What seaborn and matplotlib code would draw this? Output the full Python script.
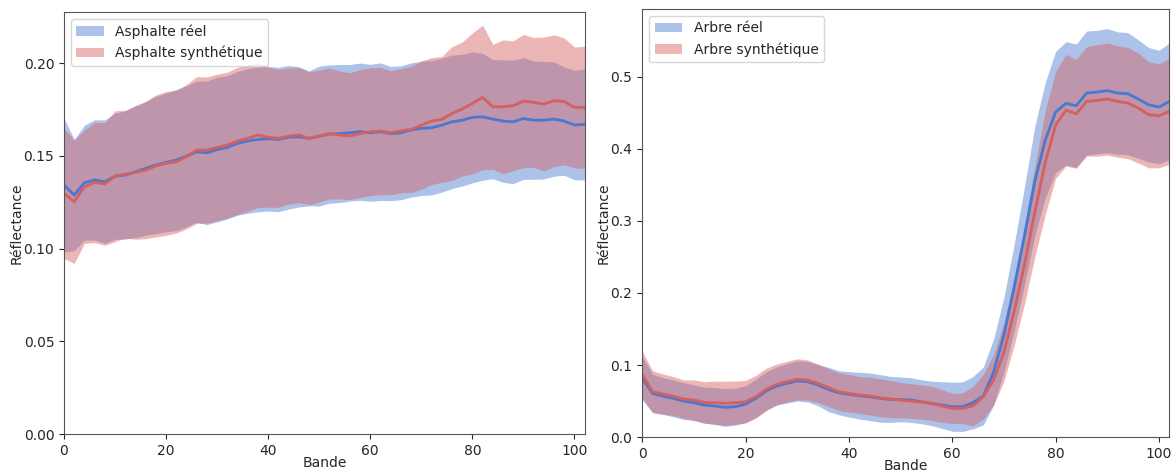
import numpy as np
import pandas as pd
import matplotlib
matplotlib.use("Agg")
import matplotlib.pyplot as plt
import seaborn as sns

# bandes lues tous les 2 (0..102)
bandes = np.arange(0, 103, 2)

# Asphalte
asph_reel_moy = [0.1342, 0.1288, 0.1355, 0.1370, 0.1360, 0.1390, 0.1396, 0.1414, 0.1432, 0.1450,
                 0.1464, 0.1477, 0.1498, 0.1522, 0.1516, 0.1534, 0.1545, 0.1567, 0.1580, 0.1588,
                 0.1592, 0.1588, 0.1600, 0.1602, 0.1594, 0.1606, 0.1617, 0.1620, 0.1624, 0.1630,
                 0.1624, 0.1630, 0.1620, 0.1624, 0.1639, 0.1648, 0.1651, 0.1665, 0.1683, 0.1692,
                 0.1707, 0.1710, 0.1698, 0.1687, 0.1683, 0.1701, 0.1692, 0.1692, 0.1698, 0.1687,
                 0.1666, 0.1669]
asph_reel_std = [0.0360, 0.0300, 0.0310, 0.0324, 0.0333, 0.0340, 0.0346, 0.0355, 0.0360, 0.0370,
                 0.0374, 0.0380, 0.0380, 0.0380, 0.0387, 0.0390, 0.0386, 0.0387, 0.0390, 0.0390,
                 0.0390, 0.0389, 0.0387, 0.0378, 0.0364, 0.0377, 0.0373, 0.0372, 0.0368, 0.0370,
                 0.0369, 0.0371, 0.0362, 0.0361, 0.0362, 0.0362, 0.0362, 0.0361, 0.0360, 0.0355,
                 0.0353, 0.0342, 0.0321, 0.0330, 0.0333, 0.0328, 0.0319, 0.0317, 0.0308, 0.0292,
                 0.0295, 0.0300]
asph_synth_moy = [0.1297, 0.1252, 0.1333, 0.1356, 0.1348, 0.1390, 0.1401, 0.1410, 0.1423, 0.1445,
                  0.1459, 0.1468, 0.1495, 0.1531, 0.1531, 0.1545, 0.1558, 0.1580, 0.1594, 0.1612,
                  0.1600, 0.1594, 0.1606, 0.1612, 0.1594, 0.1606, 0.1620, 0.1612, 0.1606, 0.1620,
                  0.1630, 0.1633, 0.1624, 0.1635, 0.1642, 0.1665, 0.1687, 0.1696, 0.1728, 0.1752,
                  0.1782, 0.1815, 0.1764, 0.1764, 0.1770, 0.1795, 0.1788, 0.1779, 0.1797, 0.1793,
                  0.1761, 0.1761]
asph_synth_std = [0.0350, 0.0333, 0.0306, 0.0324, 0.0330, 0.0353, 0.0344, 0.0360, 0.0370, 0.0383,
                  0.0388, 0.0385, 0.0389, 0.0396, 0.0394, 0.0395, 0.0393, 0.0397, 0.0393, 0.0390,
                  0.0377, 0.0372, 0.0367, 0.0364, 0.0358, 0.0355, 0.0353, 0.0344, 0.0342, 0.0344,
                  0.0345, 0.0343, 0.0335, 0.0334, 0.0340, 0.0346, 0.0342, 0.0339, 0.0360, 0.0361,
                  0.0380, 0.0390, 0.0337, 0.0361, 0.0350, 0.0359, 0.0350, 0.0361, 0.0355, 0.0342,
                  0.0326, 0.0329]

# Arbre
arbre_reel_moy = [0.0820, 0.0606, 0.0569, 0.0537, 0.0500, 0.0477, 0.0444, 0.0431, 0.0412, 0.0421,
                  0.0458, 0.0537, 0.0639, 0.0708, 0.0745, 0.0778, 0.0769, 0.0722, 0.0662, 0.0616,
                  0.0593, 0.0574, 0.0560, 0.0537, 0.0523, 0.0523, 0.0514, 0.0490, 0.0468, 0.0444,
                  0.0421, 0.0421, 0.0477, 0.0570, 0.0900, 0.1420, 0.2080, 0.2800, 0.3560, 0.4120,
                  0.4510, 0.4630, 0.4597, 0.4773, 0.4787, 0.4806, 0.4773, 0.4764, 0.4690, 0.4611,
                  0.4579, 0.4657]
arbre_reel_std = [0.0300, 0.0266, 0.0255, 0.0255, 0.0255, 0.0248, 0.0250, 0.0255, 0.0262, 0.0257,
                  0.0255, 0.0266, 0.0266, 0.0266, 0.0273, 0.0278, 0.0282, 0.0287, 0.0306, 0.0306,
                  0.0315, 0.0324, 0.0329, 0.0330, 0.0320, 0.0310, 0.0310, 0.0305, 0.0308, 0.0324,
                  0.0340, 0.0343, 0.0363, 0.0400, 0.0460, 0.0520, 0.0600, 0.0680, 0.0760, 0.0800,
                  0.0840, 0.0856, 0.0856, 0.0861, 0.0856, 0.0861, 0.0850, 0.0847, 0.0822, 0.0794,
                  0.0787, 0.0810]
arbre_synth_moy = [0.0870, 0.0630, 0.0597, 0.0569, 0.0528, 0.0514, 0.0481, 0.0477, 0.0468, 0.0477,
                   0.0490, 0.0560, 0.0662, 0.0731, 0.0769, 0.0801, 0.0792, 0.0745, 0.0690, 0.0630,
                   0.0606, 0.0583, 0.0569, 0.0546, 0.0528, 0.0514, 0.0500, 0.0486, 0.0468, 0.0431,
                   0.0398, 0.0398, 0.0431, 0.0560, 0.0792, 0.1180, 0.1750, 0.2400, 0.3130, 0.3810,
                   0.4330, 0.4535, 0.4486, 0.4657, 0.4671, 0.4690, 0.4657, 0.4634, 0.4565, 0.4472,
                   0.4458, 0.4519]
arbre_synth_std = [0.0320, 0.0290, 0.0278, 0.0271, 0.0266, 0.0278, 0.0287, 0.0299, 0.0306, 0.0301,
                   0.0296, 0.0296, 0.0294, 0.0282, 0.0282, 0.0285, 0.0278, 0.0266, 0.0262, 0.0262,
                   0.0262, 0.0255, 0.0262, 0.0262, 0.0259, 0.0245, 0.0241, 0.0238, 0.0238, 0.0227,
                   0.0208, 0.0213, 0.0273, 0.0308, 0.0347, 0.0405, 0.0475, 0.0544, 0.0625, 0.0720,
                   0.0740, 0.0775, 0.0757, 0.0757, 0.0775, 0.0778, 0.0773, 0.0771, 0.0764, 0.0736,
                   0.0722, 0.0736]

bleu = "#4878d0"
rouge = "#d65f5f"

sns.set_style("ticks")
plt.rcParams["font.family"] = ["DejaVu Sans"]
plt.rcParams["font.size"] = 10
plt.rcParams["axes.edgecolor"] = "#555555"

fig = plt.figure(figsize=(11.74, 4.72), dpi=100)
ax1 = fig.add_axes([0.0545, 0.0805, 0.4435, 0.894])
ax2 = fig.add_axes([0.547, 0.074, 0.449, 0.907])

panneaux = [
    (ax1, "Asphalte", asph_reel_moy, asph_reel_std, asph_synth_moy, asph_synth_std, 0.2275),
    (ax2, "Arbre", arbre_reel_moy, arbre_reel_std, arbre_synth_moy, arbre_synth_std, 0.594),
]

for ax, nom, m_r, s_r, m_s, s_s, ymax in panneaux:
    df = pd.DataFrame({"Bande": bandes,
                       "reel": m_r, "reel_std": s_r,
                       "synth": m_s, "synth_std": s_s})
    f1 = ax.fill_between(df.Bande, df.reel - df.reel_std, df.reel + df.reel_std,
                         color=bleu, alpha=0.45, linewidth=0, label=f"{nom} réel")
    f2 = ax.fill_between(df.Bande, df.synth - df.synth_std, df.synth + df.synth_std,
                         color=rouge, alpha=0.45, linewidth=0, label=f"{nom} synthétique")
    sns.lineplot(data=df, x="Bande", y="reel", color=bleu, linewidth=2, ax=ax, legend=False)
    sns.lineplot(data=df, x="Bande", y="synth", color=rouge, linewidth=2, ax=ax, legend=False)
    ax.set_xlim(0, 102)
    ax.set_ylim(0, ymax)
    ax.set_xlabel("Bande", labelpad=-1)
    ax.set_ylabel("Réflectance", labelpad=0)
    ax.legend(handles=[f1, f2], loc="upper left", fontsize=10)

ax1.set_yticks([0.0, 0.05, 0.10, 0.15, 0.20])
ax1.set_yticklabels(["0.00", "0.05", "0.10", "0.15", "0.20"])

plt.savefig("out.png", dpi=100)
